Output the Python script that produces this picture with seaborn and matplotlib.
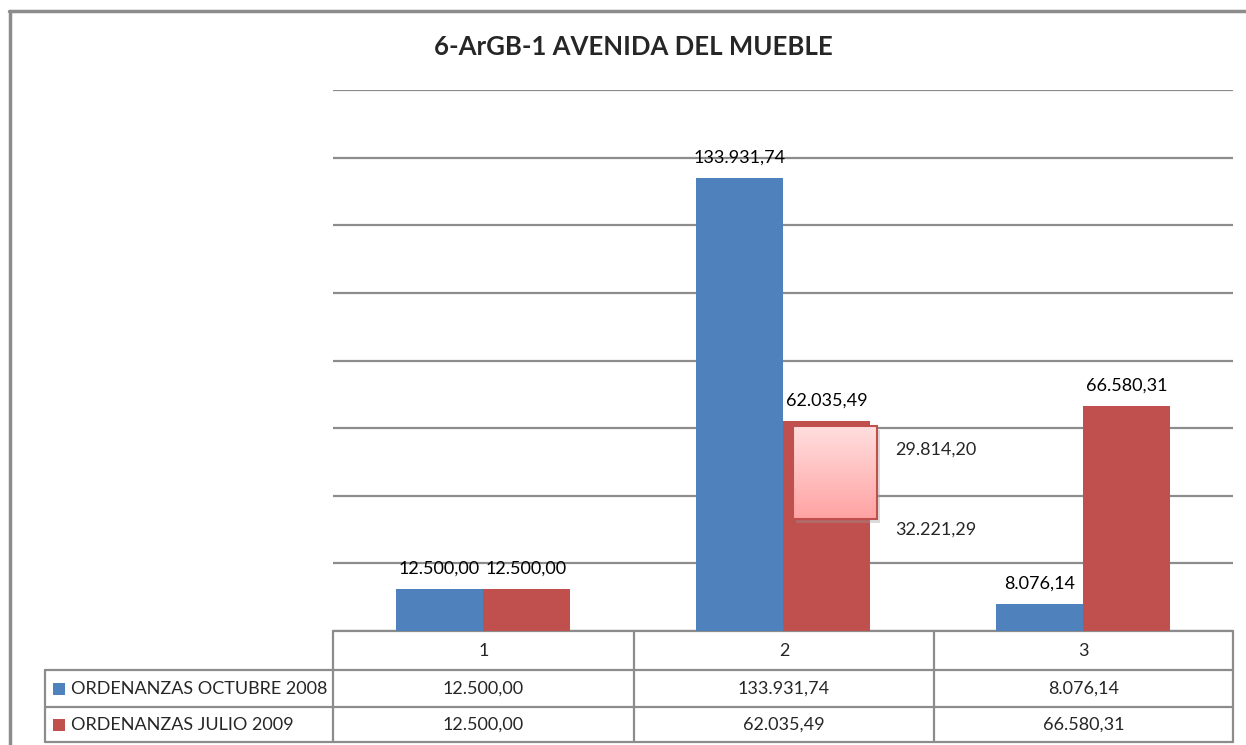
import numpy as np
import pandas as pd
import matplotlib
matplotlib.use("Agg")
import matplotlib.pyplot as plt
import seaborn as sns
from matplotlib.patches import Rectangle
from matplotlib.colors import LinearSegmentedColormap

categories = ["1", "2", "3"]
series_names = ["ORDENANZAS OCTUBRE 2008", "ORDENANZAS JULIO 2009"]
octubre_2008 = [12500.00, 133931.74, 8076.14]
julio_2009 = [12500.00, 62035.49, 66580.31]
breakdown_labels = [29814.20, 32221.29]
title = "6-ArGB-1 AVENIDA DEL MUEBLE"
colors = ["#4F81BD", "#C0504D"]


def fmt(v):
    s = f"{v:,.2f}"
    return s.replace(",", "X").replace(".", ",").replace("X", ".")


df = pd.DataFrame({
    "cat": categories * 2,
    "serie": [series_names[0]] * 3 + [series_names[1]] * 3,
    "val": octubre_2008 + julio_2009,
})

sns.set_style("white")
plt.rcParams["font.family"] = ["Lato", "DejaVu Sans"]

W, H = 1246, 745
fig = plt.figure(figsize=(W / 100, H / 100), dpi=100)

# overlay axes in pixel coords
ov = fig.add_axes([0, 0, 1, 1], zorder=0)
ov.set_xlim(0, W)
ov.set_ylim(H, 0)
ov.axis("off")

x0, x1, y0, y1 = 333, 1233, 90, 631
ax = fig.add_axes([x0 / W, 1 - y1 / H, (x1 - x0) / W, (y1 - y0) / H], zorder=2)
ax.patch.set_alpha(0)
sns.barplot(data=df, x="cat", y="val", hue="serie", palette=colors,
            width=0.58, ax=ax, legend=False, saturation=1, edgecolor="none")
ax.set_ylim(0, 160000)
ax.set_xlim(-0.5, 2.5)
ax.yaxis.grid(True, color="#8C8C8C", linewidth=1.6)
ax.set_axisbelow(True)
for s in ax.spines.values():
    s.set_visible(False)
ax.set_xticks([])
ax.set_yticks(np.arange(0, 160001, 20000))
ax.tick_params(left=False, labelleft=False)
ax.set_xlabel("")
ax.set_ylabel("")

FS = 13

# data labels
for container in ax.containers:
    ax.bar_label(container, labels=[fmt(v) for v in container.datavalues],
                 padding=9, fontsize=FS, color="#000000")

# callout box with gradient over second red bar
bar = ax.containers[1][1]
bx = bar.get_x()
bw = bar.get_width()
ytop = 60500
ybot = 33000
cx0 = bx + bw * 0.115
cx1 = bx + bw * 1.08
grad = np.linspace(0, 1, 100).reshape(-1, 1)
cmap = LinearSegmentedColormap.from_list("pk", ["#FFA3A3", "#FFDEDE"])
ax.add_patch(Rectangle((cx0 + 0.01, ybot - 1000), cx1 - cx0, ytop - ybot,
                       facecolor="#999999", alpha=0.35, edgecolor="none", zorder=4))
ax.imshow(grad, extent=[cx0, cx1, ybot, ytop], cmap=cmap, aspect="auto",
          origin="lower", zorder=5)
ax.add_patch(Rectangle((cx0, ybot), cx1 - cx0, ytop - ybot, facecolor="none",
                       edgecolor="#C0504D", linewidth=1.5, zorder=6))
ax.set_xlim(-0.5, 2.5)
ax.set_ylim(0, 160000)
ax.text(1.51, 53700, fmt(breakdown_labels[0]), ha="center", va="center", fontsize=FS, zorder=7)
ax.text(1.51, 30000, fmt(breakdown_labels[1]), ha="center", va="center", fontsize=FS, zorder=7)

# title
fig.text(633 / W, 1 - 47 / H, title, ha="center", va="center",
         fontsize=18.5, fontweight="bold")

# outer border
lc = "#8C8C8C"
ov.plot([9, W + 5], [11, 11], color=lc, lw=2.5)
ov.plot([9.5, 9.5], [11, H + 5], color=lc, lw=2.5)

# data table
cols = [333, 634, 934, 1233]
rows = [631, 670, 707, 742]
tl = "#8C8C8C"
for r in rows:
    xs = 333 if r == rows[0] else 45
    ov.plot([xs, 1233], [r, r], color=tl, lw=1.6)
for c in cols:
    ov.plot([c, c], [631, 742], color=tl, lw=1.6)
ov.plot([45, 45], [670, 742], color=tl, lw=1.6)

for i, cat in enumerate(categories):
    cxm = (cols[i] + cols[i + 1]) / 2
    ov.text(cxm, (rows[0] + rows[1]) / 2, cat, ha="center", va="center", fontsize=FS)
    ov.text(cxm, (rows[1] + rows[2]) / 2, fmt(octubre_2008[i]), ha="center", va="center", fontsize=FS)
    ov.text(cxm, (rows[2] + rows[3]) / 2, fmt(julio_2009[i]), ha="center", va="center", fontsize=FS)

for j, name in enumerate(series_names):
    ym = (rows[j + 1] + rows[j + 2]) / 2
    ov.add_patch(Rectangle((53, ym - 6), 12, 12, facecolor=colors[j], edgecolor="none"))
    ov.text(71, ym, name, ha="left", va="center", fontsize=FS)

fig.savefig("out.png", dpi=100)
